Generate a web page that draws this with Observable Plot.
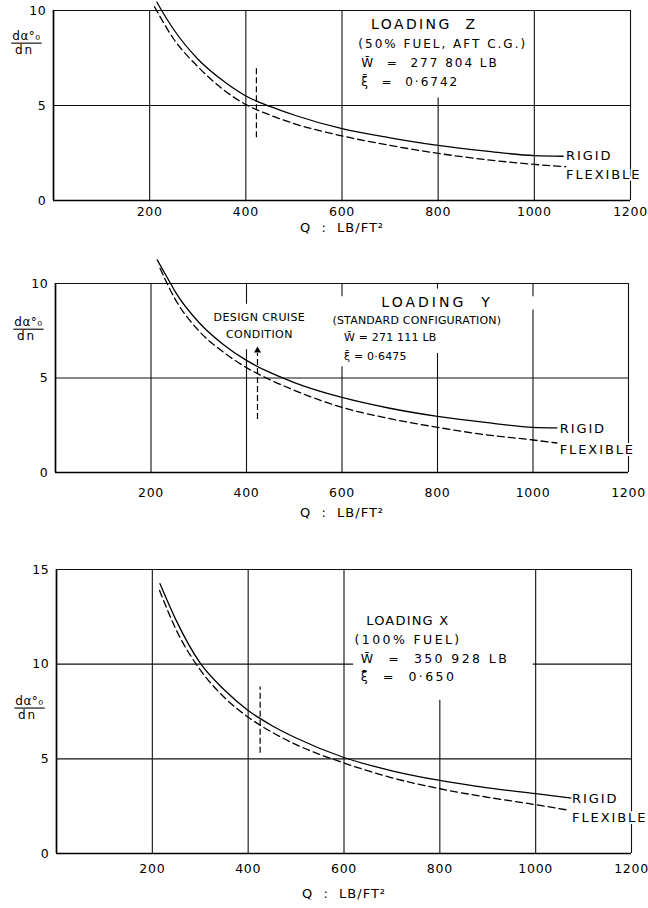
<!DOCTYPE html>
<html><head><meta charset="utf-8">
<script src="https://cdn.jsdelivr.net/npm/d3@7"></script>
<script src="https://cdn.jsdelivr.net/npm/@observablehq/plot@0.6"></script>
<style>
body{margin:0;background:#fff;}
#chart{width:648px;}
#chart svg{display:block;}
#chart text{paint-order:stroke;}
</style></head><body><div id="chart"></div>
<script>
// ---------- shared ----------
const qTicks = [200, 400, 600, 800, 1000, 1200];
const yTicks10 = [0, 5, 10];
const yTicks15 = [0, 5, 10, 15];
const xLabel = "Q  :  LB/FT²";
const yLabelNum = "dα°₀";
const yLabelDen = "dn";

// ---------- Loading Z ----------
const zRigid = [[215,10.45],[225,10.0],[250,9.0],[300,7.45],[350,6.35],[400,5.5],[450,4.95],[500,4.5],[600,3.78],[700,3.3],[800,2.9],[900,2.6],[1000,2.36],[1060,2.33]];
const zFlexible = [[210,10.2],[250,8.5],[300,7.05],[350,5.9],[400,5.05],[450,4.5],[500,4.05],[600,3.4],[700,2.9],[800,2.48],[900,2.15],[1000,1.9],[1065,1.78]];
const zCruise = [[422,3.3,7.0]];
const zGridV = [[200,0,10],[400,0,10],[600,0,10],[800,0,5.4],[1000,0,10],[1200,0,10]];
const zGridH = [[5,0,1200],[10,0,1200]];
const zTitle = [[771,9.25,"LOADING  Z"]];
const zInfo = [[634,8.25,"(50% FUEL, AFT C.G.)"],[640,7.22,"W̄  =  277 804 LB"],[640,6.25,"ξ̄  =  0·6742"]];
const zCurveLabels = [[1066,2.33,"RIGID"],[1066,1.35,"FLEXIBLE"]];
const zFracV = 8.3;

// ---------- Loading Y ----------
const yRigid = [[213,11.25],[241,10.0],[250,9.6],[300,7.95],[350,6.8],[400,5.93],[450,5.28],[500,4.76],[600,3.97],[700,3.4],[800,2.97],[900,2.65],[1000,2.39],[1050,2.36]];
const yFlexible = [[219,10.8],[250,9.2],[300,7.5],[350,6.4],[400,5.55],[450,4.9],[500,4.35],[600,3.45],[700,2.85],[800,2.39],[900,2.0],[1000,1.72],[1050,1.56]];
const yCruise = [[423,2.8,6.3]];
const yCruiseArrow = [[423,6.45]];
const yGridV = [[200,0,10],[400,0,6.5],[400,8.9,10],[600,0,5.6],[600,9.3,10],[800,0,6.3],[800,9.7,10],[1000,0,8.6],[1000,9.3,10],[1200,0,10]];
const yGridH = [[5,0,1200],[10,0,1200]];
const yTitle = [[799,9.0,"LOADING  Y"]];
const yInfo = [[580,8.05,"(STANDARD CONFIGURATION)"],[604,7.15,"W̄ = 271 111 LB"],[604,6.15,"ξ̄ = 0·6475"]];
const yCruiseText = [[427,8.2,"DESIGN CRUISE"],[427,7.3,"CONDITION"]];
const yCurveLabels = [[1056,2.3,"RIGID"],[1056,1.2,"FLEXIBLE"]];
const yFracV = 7.6;

// ---------- Loading X ----------
const xRigid = [[216,14.25],[250,12.3],[300,10.05],[350,8.65],[400,7.55],[450,6.75],[500,6.1],[600,5.07],[700,4.37],[800,3.86],[900,3.47],[1000,3.16],[1075,2.93]];
const xFlexible = [[215,13.9],[250,11.8],[300,9.7],[350,8.25],[400,7.2],[450,6.4],[500,5.75],[600,4.78],[700,4.0],[800,3.42],[900,2.97],[1000,2.58],[1070,2.28]];
const xCruise = [[425,5.3,8.8]];
const xGridV = [[200,0,15],[400,0,15],[600,0,15],[800,0,8.1],[1000,0,15],[1200,0,15]];
const xGridH = [[5,0,1200],[10,0,620],[10,995,1200],[15,0,1200]];
const xTitle = [[733,12.3,"LOADING X"]];
const xInfo = [[622,11.3,"(100% FUEL)"],[635,10.26,"W̄  =  350 928 LB"],[635,9.3,"ξ̄  =  0·650"]];
const xCurveLabels = [[1076,2.88,"RIGID"],[1076,1.9,"FLEXIBLE"]];
const xFracV = 7.7;

const FONT = "'DejaVu Sans', sans-serif";

function panel(o) {
  const halo = {stroke: "white", strokeWidth: 4, fill: "black"};
  const marks = [
    Plot.ruleX(o.gridV, {x: d => d[0], y1: d => d[1], y2: d => d[2], stroke: "#111", strokeWidth: 1.1}),
    Plot.ruleY(o.gridH, {y: d => d[0], x1: d => d[1], x2: d => d[2], stroke: "#111", strokeWidth: 1.1}),
    Plot.ruleX([0], {stroke: "#000", strokeWidth: 1.7}),
    Plot.ruleY([0], {stroke: "#000", strokeWidth: 1.7}),
    Plot.line(o.rigid, {x: d => d[0], y: d => d[1], curve: "monotone-x", stroke: "#000", strokeWidth: 1.3}),
    Plot.line(o.flexible, {x: d => d[0], y: d => d[1], curve: "monotone-x", stroke: "#000", strokeWidth: 1.3, strokeDasharray: "7,4"}),
    Plot.ruleX(o.cruise, {x: d => d[0], y1: d => d[1], y2: d => d[2], stroke: "#000", strokeWidth: 1.2, strokeDasharray: "6,3"}),
    ...(o.extra || []),
    Plot.text(o.title, {x: d => d[0], y: d => d[1], text: d => d[2], textAnchor: "middle", fontSize: o.titleSize, ...halo}),
    Plot.text(o.info, {x: d => d[0], y: d => d[1], text: d => d[2], textAnchor: "start", fontSize: o.infoSize, ...halo}),
    Plot.text(o.curveLabels, {x: d => d[0], y: d => d[1], text: d => d[2], textAnchor: "start", fontSize: 13, ...halo}),
    Plot.text([o.fracV], {y: d => d, text: () => yLabelNum, frameAnchor: "left", dx: -27, dy: -7, textAnchor: "middle", fontSize: 12}),
    Plot.text([o.fracV], {y: d => d, text: () => yLabelDen, frameAnchor: "left", dx: -29, dy: 7, textAnchor: "middle", fontSize: 12}),
    Plot.text([xLabel], {text: d => d, frameAnchor: "bottom", dy: o.labelDy, textAnchor: "middle", fontSize: 13})
  ];
  return Plot.plot({
    width: 648,
    height: o.height,
    marginTop: o.mt, marginBottom: o.mb, marginLeft: o.ml, marginRight: o.mr,
    x: {domain: [0, 1200], ticks: qTicks, tickFormat: d3.format("d"), tickSize: 0, tickPadding: o.tickPad, label: null},
    y: {domain: [0, o.yMax], ticks: o.yTicks, tickFormat: d3.format("d"), tickSize: 0, tickPadding: 7, label: null},
    style: {fontFamily: FONT, fontSize: "12.5px", letterSpacing: "0.7px", background: "white", color: "black", overflow: "visible"},
    marks
  });
}

// letter spacing by text content (after render)
function spacing(svg, rows, value) {
  const set = new Set(rows.map(r => Array.isArray(r) ? r[2] : r));
  d3.select(svg).selectAll("text").filter(function() { return set.has(this.textContent); }).style("letter-spacing", value);
}
// fraction bar under the numerator of the y label
function fractionBar(svg) {
  d3.select(svg).selectAll("text").filter(function() { return this.textContent === yLabelNum; }).each(function() {
    const b = this.getBBox();
    d3.select(this.parentNode).append("line")
      .attr("transform", this.getAttribute("transform"))
      .attr("x1", b.x - 1).attr("x2", b.x + b.width + 1)
      .attr("y1", b.y + b.height + 0.5).attr("y2", b.y + b.height + 0.5)
      .attr("stroke", "black").attr("stroke-width", 1.1);
  });
}

const root = document.getElementById("chart");

const specs = [
  {key: "z", height: 240, mt: 10, mb: 40, ml: 53, mr: 18, yMax: 10, yTicks: yTicks10, tickPad: 7,
   gridV: zGridV, gridH: zGridH, rigid: zRigid, flexible: zFlexible, cruise: zCruise,
   title: zTitle, info: zInfo, curveLabels: zCurveLabels, fracV: zFracV, labelDy: 31,
   titleSize: 14, titleLs: "2.4px", infoSize: 12, infoLs: "2px"},
  {key: "y", height: 290, mt: 43, mb: 58, ml: 55, mr: 20, yMax: 10, yTicks: yTicks10, tickPad: 16,
   gridV: yGridV, gridH: yGridH, rigid: yRigid, flexible: yFlexible, cruise: yCruise,
   title: yTitle, info: yInfo, curveLabels: yCurveLabels, fracV: yFracV, labelDy: 44,
   titleSize: 14, titleLs: "3px", infoSize: 11, infoLs: "0.2px",
   extra: [
     Plot.dot(yCruiseArrow, {x: d => d[0], y: d => d[1], symbol: "triangle", r: 2.6, fill: "black", stroke: "none"}),
     Plot.text(yCruiseText, {x: d => d[0], y: d => d[1], text: d => d[2], textAnchor: "middle", fontSize: 11, stroke: "white", strokeWidth: 4, fill: "black"})
   ]},
  {key: "x", height: 378, mt: 39, mb: 55, ml: 56, mr: 17, yMax: 15, yTicks: yTicks15, tickPad: 11,
   gridV: xGridV, gridH: xGridH, rigid: xRigid, flexible: xFlexible, cruise: xCruise,
   title: xTitle, info: xInfo, curveLabels: xCurveLabels, fracV: xFracV, labelDy: 44,
   titleSize: 13, titleLs: "1.2px", infoSize: 12.5, infoLs: "2.4px"}
];

for (const o of specs) {
  const svg = panel(o);
  root.appendChild(svg);
  spacing(svg, o.title, o.titleLs);
  spacing(svg, o.info, o.infoLs);
  spacing(svg, o.curveLabels, "1.9px");
  spacing(svg, [yLabelNum], "0.5px");
  spacing(svg, [yLabelDen], "2px");
  spacing(svg, [xLabel], "1px");
  spacing(svg, yCruiseText, "0.4px");
  fractionBar(svg);
}
</script>
</body></html>
